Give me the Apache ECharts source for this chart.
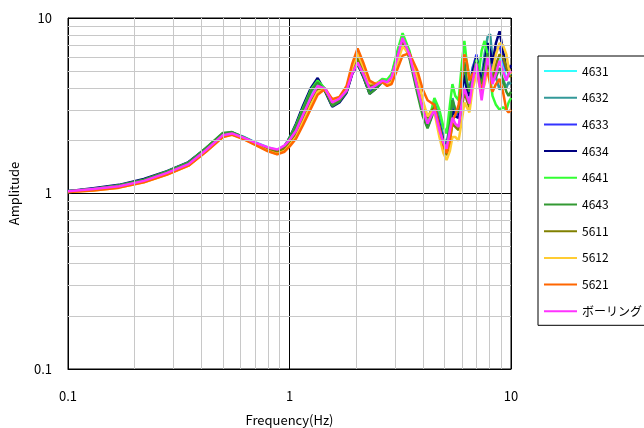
<!DOCTYPE html>
<html>
<head>
<meta charset="utf-8">
<script src="https://cdn.jsdelivr.net/npm/echarts@6/dist/echarts.min.js"></script>
<style>
  html, body { margin: 0; padding: 0; background: #fff; }
  #chart { width: 644px; height: 428px; }
</style>
</head>
<body>
<div id="chart"></div>
<script>
const freq = [0.1, 0.13, 0.17, 0.22, 0.28, 0.35, 0.42, 0.5, 0.55, 0.62,
  0.7, 0.8, 0.88, 0.95, 1.0, 1.07, 1.15, 1.25, 1.34, 1.45,
  1.56, 1.68, 1.81, 1.92, 2.03, 2.15, 2.3, 2.45, 2.63, 2.76,
  2.89, 3.05, 3.24, 3.48, 3.78, 4.0, 4.2, 4.35, 4.51, 4.75,
  4.95, 5.12, 5.3, 5.44, 5.6, 5.8, 6.0, 6.16, 6.32, 6.49,
  6.7, 6.98, 7.18, 7.37, 7.6, 7.84, 8.05, 8.25, 8.55, 8.88,
  9.2, 9.53, 9.75, 10];

const names = ['4631', '4632', '4633', '4634', '4641', '4643', '5611', '5612', '5621', 'ボーリング'];
const colors = ['#33ffff', '#339999', '#3333ff', '#000080', '#33ff33', '#339933', '#808000', '#ffcc33', '#ff6600', '#ff33ff'];

const s4631 = [1.03, 1.06, 1.11, 1.19, 1.32, 1.48, 1.79, 2.17, 2.22, 2.10,
  1.96, 1.83, 1.77, 1.87, 2.04, 2.35, 2.95, 3.70, 4.25, 3.95,
  3.25, 3.42, 3.90, 5.00, 5.70, 4.90, 3.90, 4.10, 4.45, 4.35,
  4.70, 6.00, 7.90, 6.40, 4.10, 3.05, 2.55, 2.85, 3.20, 2.55,
  2.05, 1.90, 2.50, 3.10, 2.80, 2.70, 3.80, 4.60, 3.80, 3.50,
  4.80, 5.80, 4.60, 4.00, 5.00, 6.50, 5.60, 4.60, 5.20, 6.00,
  5.30, 4.50, 4.70, 4.80];
const s4632 = [1.03, 1.06, 1.11, 1.19, 1.32, 1.49, 1.80, 2.18, 2.23, 2.10,
  1.95, 1.82, 1.76, 1.86, 2.05, 2.40, 3.00, 3.80, 4.35, 3.90,
  3.20, 3.40, 3.85, 4.95, 5.60, 4.80, 3.85, 4.05, 4.40, 4.30,
  4.70, 6.10, 8.00, 6.30, 3.90, 2.85, 2.40, 2.70, 3.30, 2.70,
  2.10, 1.85, 2.60, 3.50, 3.00, 2.90, 4.20, 5.00, 4.00, 3.60,
  5.20, 6.00, 4.80, 4.60, 6.20, 7.80, 8.10, 5.80, 4.60, 3.90,
  4.50, 4.00, 4.30, 4.20];
const s4633 = [1.03, 1.06, 1.11, 1.19, 1.33, 1.50, 1.80, 2.18, 2.22, 2.08,
  1.94, 1.80, 1.74, 1.85, 2.06, 2.45, 3.10, 3.95, 4.45, 3.85,
  3.15, 3.35, 3.80, 4.85, 5.50, 4.70, 3.75, 4.00, 4.40, 4.30,
  4.65, 6.00, 7.80, 6.20, 3.90, 2.90, 2.45, 2.75, 3.15, 2.50,
  2.00, 1.80, 2.40, 3.20, 2.85, 2.80, 4.00, 4.80, 4.00, 3.70,
  5.00, 6.20, 5.00, 4.40, 5.60, 7.00, 6.00, 5.00, 6.50, 7.00,
  5.80, 5.00, 5.20, 5.30];
const s4634 = [1.03, 1.07, 1.12, 1.21, 1.34, 1.51, 1.81, 2.19, 2.21, 2.07,
  1.93, 1.79, 1.73, 1.85, 2.08, 2.50, 3.15, 4.00, 4.55, 3.80,
  3.12, 3.30, 3.75, 4.80, 5.45, 4.65, 3.70, 3.95, 4.35, 4.25,
  4.60, 5.90, 7.60, 6.10, 3.85, 2.85, 2.40, 2.70, 3.10, 2.45,
  1.98, 1.78, 2.35, 3.00, 2.75, 2.70, 3.90, 4.70, 3.90, 3.60,
  4.90, 6.00, 5.00, 4.30, 5.50, 7.20, 6.50, 5.50, 7.20, 8.40,
  6.50, 5.20, 5.00, 5.40];
const s4641 = [1.03, 1.06, 1.11, 1.19, 1.33, 1.50, 1.81, 2.20, 2.23, 2.09,
  1.94, 1.80, 1.75, 1.86, 2.07, 2.45, 3.05, 3.90, 4.40, 3.95,
  3.25, 3.45, 3.95, 5.10, 5.80, 5.00, 4.00, 4.20, 4.50, 4.45,
  4.80, 6.30, 8.20, 6.50, 4.10, 3.00, 2.55, 2.90, 3.50, 3.00,
  2.40, 2.20, 3.20, 4.20, 3.60, 3.40, 5.50, 7.40, 5.50, 4.70,
  4.20, 5.80, 5.00, 6.50, 7.40, 6.20, 4.60, 3.60, 3.20, 3.00,
  3.10, 3.00, 3.30, 3.50];
const s4643 = [1.03, 1.06, 1.11, 1.20, 1.33, 1.50, 1.82, 2.21, 2.24, 2.09,
  1.94, 1.79, 1.74, 1.85, 2.05, 2.42, 3.00, 3.85, 4.30, 3.85,
  3.15, 3.35, 3.80, 4.90, 5.50, 4.70, 3.70, 3.95, 4.35, 4.25,
  4.55, 5.90, 7.50, 5.90, 3.70, 2.75, 2.35, 2.65, 3.00, 2.40,
  1.95, 1.80, 2.50, 3.40, 3.00, 2.90, 4.30, 5.60, 4.40, 3.80,
  4.50, 5.60, 4.60, 4.20, 5.20, 6.30, 5.40, 4.40, 4.60, 5.20,
  4.40, 3.80, 3.60, 3.80];
const s5611 = [1.02, 1.05, 1.09, 1.17, 1.29, 1.45, 1.75, 2.12, 2.18, 2.06,
  1.92, 1.78, 1.72, 1.80, 1.95, 2.20, 2.70, 3.40, 3.95, 3.85,
  3.30, 3.45, 3.95, 5.10, 5.90, 5.10, 4.10, 4.20, 4.40, 4.25,
  4.40, 5.50, 7.20, 6.30, 4.40, 3.30, 2.70, 2.95, 3.10, 2.30,
  1.85, 1.65, 2.00, 2.50, 2.40, 2.30, 3.10, 3.80, 3.40, 3.10,
  4.20, 5.20, 4.40, 3.80, 4.40, 5.40, 5.00, 4.40, 5.40, 6.20,
  6.00, 5.20, 4.80, 4.60];
const s5612 = [1.02, 1.04, 1.08, 1.16, 1.28, 1.44, 1.74, 2.10, 2.17, 2.05,
  1.90, 1.75, 1.68, 1.75, 1.88, 2.10, 2.55, 3.20, 3.80, 3.90,
  3.40, 3.50, 4.00, 5.20, 6.30, 5.30, 4.25, 4.25, 4.35, 4.20,
  4.30, 5.40, 6.90, 6.20, 4.60, 3.40, 2.75, 2.90, 2.90, 2.10,
  1.70, 1.55, 1.75, 2.10, 2.10, 2.00, 2.60, 3.30, 3.10, 2.90,
  3.90, 4.80, 4.20, 3.70, 4.20, 5.00, 5.00, 5.00, 6.20, 7.20,
  7.00, 6.20, 5.20, 4.80];
const s5621 = [1.02, 1.04, 1.08, 1.16, 1.28, 1.44, 1.73, 2.10, 2.16, 2.04,
  1.89, 1.74, 1.67, 1.73, 1.85, 2.05, 2.45, 3.05, 3.65, 3.95,
  3.45, 3.55, 4.10, 5.50, 6.70, 5.60, 4.40, 4.20, 4.30, 4.10,
  4.20, 5.00, 6.10, 6.30, 5.00, 3.90, 3.40, 3.30, 3.20, 2.40,
  1.90, 1.70, 2.00, 2.60, 2.80, 3.20, 4.50, 6.20, 5.60, 4.40,
  4.80, 5.00, 4.40, 3.80, 4.60, 5.00, 4.20, 3.80, 4.20, 4.50,
  3.80, 3.00, 2.90, 3.00];
const sBoring = [1.03, 1.06, 1.10, 1.18, 1.31, 1.47, 1.77, 2.15, 2.20, 2.08,
  1.95, 1.83, 1.78, 1.88, 2.02, 2.28, 2.80, 3.52, 4.10, 3.96,
  3.30, 3.47, 3.86, 4.83, 5.57, 4.83, 3.96, 4.12, 4.40, 4.30,
  4.60, 5.80, 7.70, 6.20, 4.00, 3.00, 2.50, 2.75, 3.00, 2.30,
  1.95, 1.80, 2.30, 2.70, 2.50, 2.40, 3.30, 4.00, 3.60, 3.25,
  4.30, 5.50, 4.30, 3.40, 4.50, 6.00, 5.20, 4.20, 4.80, 5.70,
  5.00, 4.40, 4.80, 5.00];

const values = [s4631, s4632, s4633, s4634, s4641, s4643, s5611, s5612, s5621, sBoring];

// minor grid positions (2..9 in each decade)
const minorX = [0.2, 0.3, 0.4, 0.5, 0.6, 0.7, 0.8, 0.9, 2, 3, 4, 5, 6, 7, 8, 9];
const minorY = [0.2, 0.3, 0.4, 0.5, 0.6, 0.7, 0.8, 0.9, 2, 3, 4, 5, 6, 7, 8, 9];

const font = '"Noto Sans CJK JP", "DejaVu Sans", sans-serif';

const chart = echarts.init(document.getElementById('chart'));

const series = [{
  name: 'grid',
  type: 'line',
  data: [],
  silent: true,
  z: 1,
  markLine: {
    silent: true,
    symbol: ['none', 'none'],
    label: { show: false },
    lineStyle: { color: '#c8c8c8', type: 'solid', width: 1 },
    animation: false,
    data: minorX.map(v => ({ xAxis: v })).concat(minorY.map(v => ({ yAxis: v })))
  }
}];

names.forEach((n, i) => {
  series.push({
    name: n,
    type: 'line',
    data: freq.map((f, j) => [f, values[i][j]]),
    symbol: 'none',
    smooth: false,
    z: 3,
    lineStyle: { color: colors[i], width: 2.5 },
    itemStyle: { color: colors[i] }
  });
});

const option = {
  animation: false,
  backgroundColor: '#fff',
  textStyle: { fontFamily: font },
  grid: {
    left: 68, top: 18, right: 133, bottom: 59,
    outerBoundsMode: 'none',
    containLabel: false,
    show: true, borderColor: '#000', borderWidth: 1, backgroundColor: '#fff'
  },
  legend: {
    data: names,
    orient: 'vertical',
    left: 538,
    top: 56,
    padding: [8, 30, 7, 5],
    itemWidth: 33,
    itemHeight: 14,
    itemGap: 12.7,
    itemTextGap: 2,
    borderColor: '#000',
    borderWidth: 1,
    borderRadius: 0,
    backgroundColor: '#fff',
    itemStyle: { opacity: 0 },
    lineStyle: { width: 2 },
    textStyle: { color: '#000', fontSize: 12, fontFamily: font, lineHeight: 14 }
  },
  xAxis: {
    type: 'log',
    logBase: 10,
    min: 0.1,
    max: 10,
    name: 'Frequency(Hz)',
    nameLocation: 'middle',
    nameGap: 45,
    nameTextStyle: { color: '#000', fontSize: 13, fontFamily: font },
    axisLine: { lineStyle: { color: '#000' } },
    axisTick: { show: false },
    axisLabel: { color: '#000', fontSize: 13, margin: 21, fontFamily: font },
    splitLine: { show: true, lineStyle: { color: '#000', width: 1 } }
  },
  yAxis: {
    type: 'log',
    logBase: 10,
    min: 0.1,
    max: 10,
    name: 'Amplitude',
    nameLocation: 'middle',
    nameGap: 47,
    nameRotate: 90,
    nameTextStyle: { color: '#000', fontSize: 13, fontFamily: font },
    axisLine: { lineStyle: { color: '#000' } },
    axisTick: { show: false },
    axisLabel: { color: '#000', fontSize: 13, margin: 16, fontFamily: font },
    splitLine: { show: true, lineStyle: { color: '#000', width: 1 } }
  },
  series: series
};

chart.setOption(option);
</script>
</body>
</html>
